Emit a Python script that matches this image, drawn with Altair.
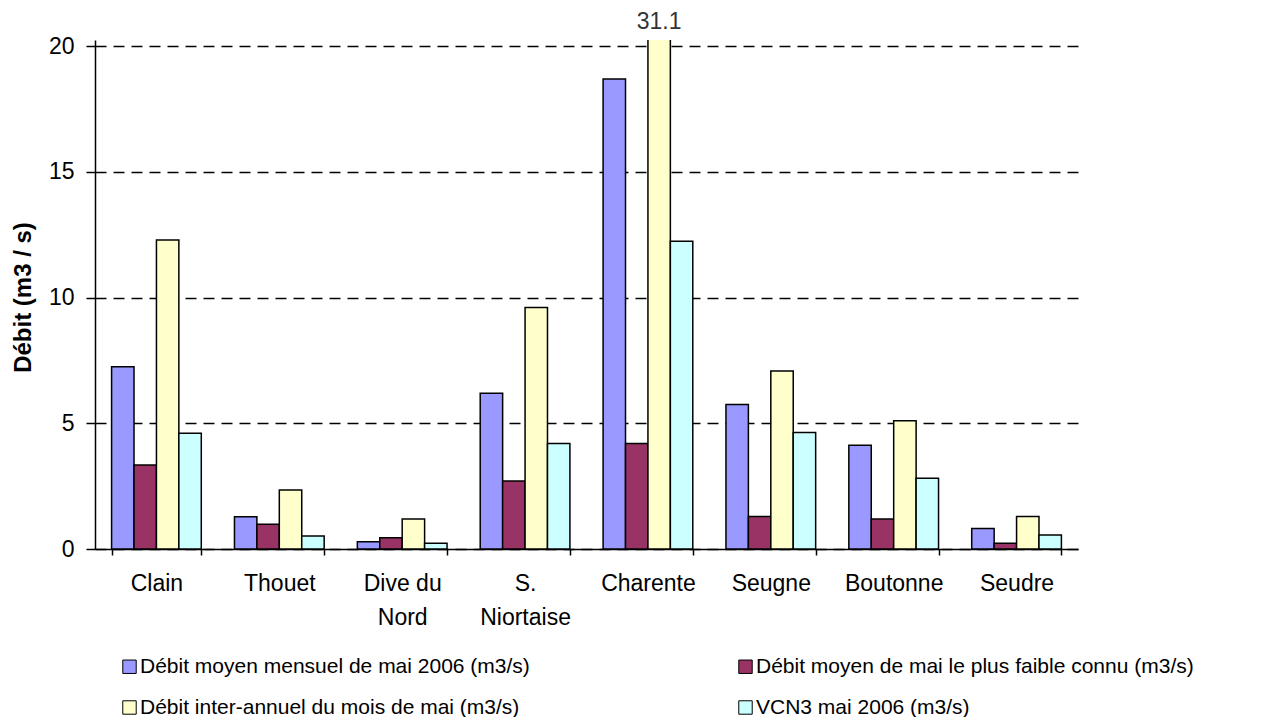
import altair as alt
import pandas as pd

rivers = ["Clain", "Thouet", "Dive du|Nord", "S.|Niortaise", "Charente", "Seugne", "Boutonne", "Seudre"]
series = [
    "Débit moyen mensuel de mai 2006 (m3/s)",
    "Débit moyen de mai le plus faible connu (m3/s)",
    "Débit inter-annuel du mois de mai (m3/s)",
    "VCN3 mai 2006 (m3/s)",
]
debit_mai_2006 = [7.25, 1.28, 0.29, 6.19, 18.69, 5.75, 4.13, 0.82]
debit_plus_faible = [3.34, 0.98, 0.45, 2.7, 4.2, 1.29, 1.19, 0.23]
debit_inter_annuel = [12.29, 2.35, 1.19, 9.6, 31.1, 7.08, 5.1, 1.29]
vcn3_mai_2006 = [4.6, 0.52, 0.23, 4.2, 12.24, 4.63, 2.81, 0.56]
colors = ["#9999FF", "#993366", "#FFFFCC", "#CCFFFF"]
y_ticks = [0, 5, 10, 15, 20]

# legend fills column by column: reorder so rows read blue/maroon, yellow/cyan
legend_order = [0, 2, 1, 3]
legend_domain = [series[i] for i in legend_order]
legend_colors = [colors[i] for i in legend_order]

rows = []
for s, vals in zip(series, [debit_mai_2006, debit_plus_faible, debit_inter_annuel, vcn3_mai_2006]):
    for r, v in zip(rivers, vals):
        rows.append({"Rivière": r, "Série": s, "Débit": v})
df = pd.DataFrame(rows)

FONT = "Liberation Sans"
FS = 23

x_enc = alt.X(
    "Rivière:N",
    sort=rivers,
    scale=alt.Scale(paddingInner=0.27, paddingOuter=0.135),
    axis=alt.Axis(
        title=None,
        labelAngle=0,
        labelExpr="split(datum.label, '|')",
        labelFont=FONT,
        labelFontSize=FS,
        labelColor="#000000",
        labelLineHeight=34,
        labelPadding=17,
        labelBaseline="top",
        tickBand="extent",
        tickSize=6,
        tickColor="#000000",
        tickWidth=1.5,
        domainColor="#000000",
        domainWidth=1.5,
        grid=False,
    ),
)

base = alt.Chart(df)

bars = base.mark_bar(clip=True, stroke="#000000", strokeWidth=1.5).encode(
    x=x_enc,
    xOffset=alt.XOffset("Série:N", sort=series),
    y=alt.Y(
        "Débit:Q",
        scale=alt.Scale(domain=[0, 20.24], nice=False, zero=True),
        axis=alt.Axis(
            title="Débit (m3 / s)",
            titleFont=FONT,
            titleFontSize=24,
            titleFontWeight="bold",
            titleColor="#000000",
            titleX=-72,
            titleY=257,
            titleAngle=-90,
            titleAlign="center",
            titleBaseline="middle",
            values=y_ticks,
            labelFont=FONT,
            labelFontSize=FS,
            labelColor="#000000",
            labelPadding=12,
            tickSize=9,
            tickColor="#000000",
            tickWidth=1.5,
            domainColor="#000000",
            domainWidth=1.5,
            grid=True,
            gridColor="#000000",
            gridDash=[11, 7],
            gridWidth=1.5,
        ),
    ),
    fill=alt.Fill(
        "Série:N",
        scale=alt.Scale(domain=legend_domain, range=legend_colors),
        legend=alt.Legend(
            title=None,
            orient="none",
            legendX=24,
            legendY=616,
            columns=2,
            columnPadding=205,
            rowPadding=19,
            symbolType="square",
            symbolSize=180,
            symbolStrokeColor="#000000",
            symbolStrokeWidth=1,
            symbolOpacity=1,
            labelFont=FONT,
            labelFontSize=21,
            labelColor="#000000",
            labelOffset=0,
            labelLimit=700,
        ),
    ),
)

label = base.transform_filter(alt.datum["Débit"] > 20.24).mark_text(
    font=FONT, fontSize=FS, color="#333333", baseline="middle", align="center"
).encode(
    x=alt.X("Rivière:N", sort=rivers),
    xOffset=alt.XOffset("Série:N", sort=series),
    y=alt.value(-18),
    text=alt.Text("Débit:Q", format=".1f"),
)

chart = alt.layer(bars, label).properties(
    width=983,
    height=509,
    background="white",
    autosize=alt.AutoSizeParams(type="none"),
    padding={"left": 87, "top": 32, "right": 185, "bottom": 168},
).configure_view(stroke="transparent", strokeWidth=0)

chart.save("out.html", embed_options={"renderer": "svg", "actions": False})
